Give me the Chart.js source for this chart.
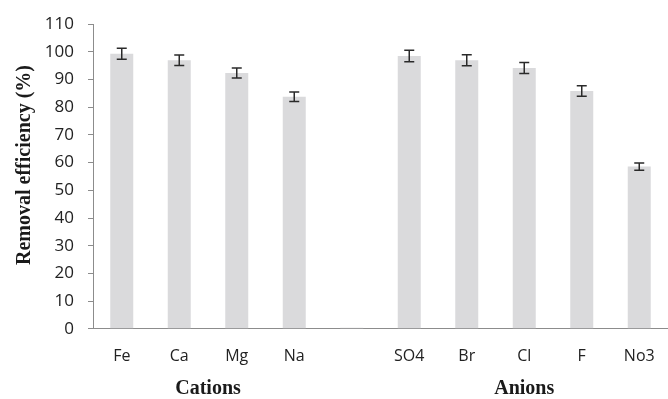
<!DOCTYPE html>
<html>
<head>
<meta charset="utf-8">
<script src="https://cdn.jsdelivr.net/npm/chart.js@4"></script>
<style>
  html, body { margin: 0; padding: 0; background: #fff; }
  #wrap { width: 668px; height: 399px; }
</style>
</head>
<body>
<div id="wrap"><canvas id="ionChart" width="668" height="399"></canvas></div>
<script>
// ions (one empty slot between the two groups)
const ions = ['Fe', 'Ca', 'Mg', 'Na', '', 'SO4', 'Br', 'Cl', 'F', 'No3'];
const removal = [99.3, 97.0, 92.4, 83.8, 0.3, 98.5, 97.0, 94.2, 85.9, 58.6];
const errors = [2.0, 1.9, 1.8, 1.7, null, 2.1, 2.0, 2.0, 1.9, 1.3];
const yTicks = [0, 10, 20, 30, 40, 50, 60, 70, 80, 90, 100, 110];
const yTitle = 'Removal efficiency (%)';
const groups = [
    { label: 'Cations', from: 0, to: 3 },
    { label: 'Anions', from: 5, to: 9 }
];

// error bars drawn on top of the bars
const errorBars = {
    id: 'errorBars',
    afterDatasetsDraw(chart) {
        const ctx = chart.ctx;
        const y = chart.scales.y;
        const meta = chart.getDatasetMeta(0);
        ctx.save();
        ctx.strokeStyle = '#2a2a2a';
        ctx.lineWidth = 1.5;
        meta.data.forEach((bar, i) => {
            const e = errors[i];
            if (e == null) return;
            const top = y.getPixelForValue(removal[i] + e);
            const bot = y.getPixelForValue(removal[i] - e);
            ctx.beginPath();
            ctx.moveTo(bar.x, top);
            ctx.lineTo(bar.x, bot);
            ctx.moveTo(bar.x - 5, top);
            ctx.lineTo(bar.x + 5, top);
            ctx.moveTo(bar.x - 5, bot);
            ctx.lineTo(bar.x + 5, bot);
            ctx.stroke();
        });
        ctx.restore();
    }
};

// axis title and group captions
const captions = {
    id: 'captions',
    afterDraw(chart) {
        const ctx = chart.ctx;
        const x = chart.scales.x;
        ctx.save();
        ctx.fillStyle = '#1a1a1a';
        ctx.font = 'bold 20px "Liberation Serif"';
        ctx.textAlign = 'center';
        ctx.textBaseline = 'middle';
        groups.forEach(g => {
            const cx = (x.getPixelForValue(g.from) + x.getPixelForValue(g.to)) / 2;
            ctx.fillText(g.label, cx, 389);
        });
        ctx.translate(25, 165);
        ctx.rotate(-Math.PI / 2);
        ctx.fillText(yTitle, 0, 0);
        ctx.restore();
    }
};

const ctx = document.getElementById('ionChart').getContext('2d');
new Chart(ctx, {
    type: 'bar',
    data: {
        labels: ions,
        datasets: [{
            data: removal,
            backgroundColor: '#dadadc',
            borderWidth: 0,
            barPercentage: 0.5,
            categoryPercentage: 0.8,
            minBarLength: 1
        }]
    },
    options: {
        responsive: false,
        animation: false,
        layout: { padding: { left: 0, right: 0, top: 12, bottom: 23 } },
        plugins: {
            legend: { display: false },
            tooltip: { enabled: false }
        },
        scales: {
            x: {
                grid: { display: false },
                border: { display: true, color: '#8c8c8c', width: 1 },
                ticks: {
                    color: '#222',
                    font: { family: 'Open Sans', size: 16 },
                    padding: 10,
                    maxRotation: 0
                }
            },
            y: {
                min: 0,
                max: 110,
                afterBuildTicks(scale) {
                    scale.ticks = yTicks.map(v => ({ value: v }));
                },
                afterFit(scale) {
                    scale.width = 93;
                },
                grid: {
                    drawOnChartArea: false,
                    drawTicks: true,
                    tickLength: 5,
                    color: '#8c8c8c'
                },
                border: { display: true, color: '#8c8c8c', width: 1 },
                ticks: {
                    color: '#222',
                    font: { family: 'Open Sans', size: 17 },
                    padding: 14
                }
            }
        }
    },
    plugins: [errorBars, captions]
});
</script>
</body>
</html>
